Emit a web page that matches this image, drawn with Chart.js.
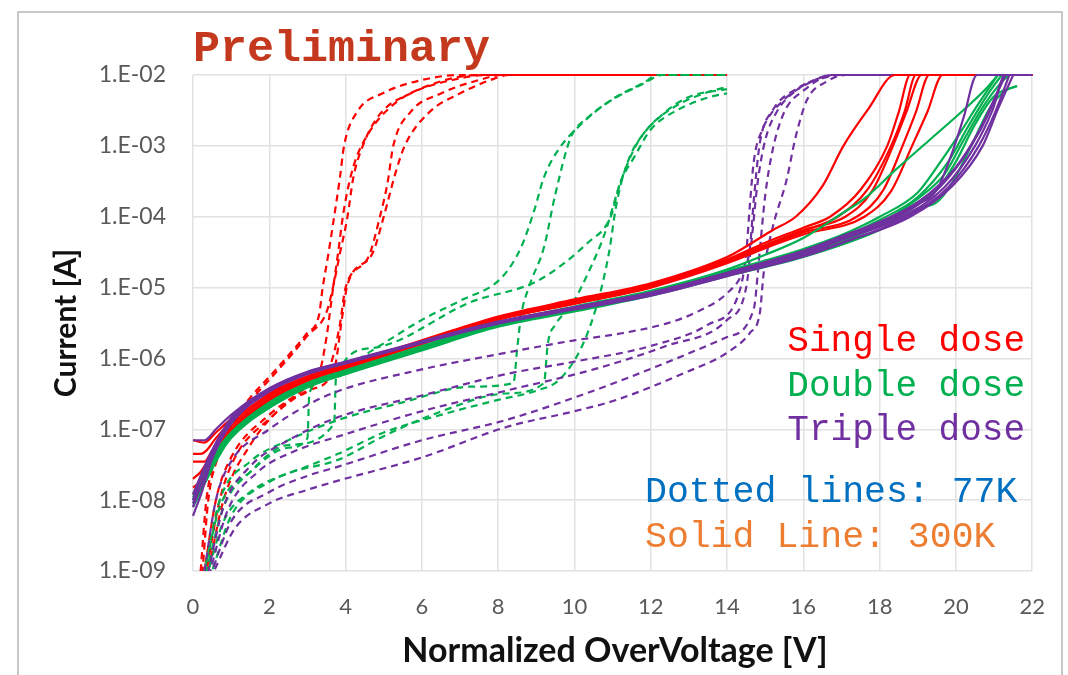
<!DOCTYPE html>
<html>
<head>
<meta charset="utf-8">
<script src="https://cdn.jsdelivr.net/npm/chart.js@4.4.1/dist/chart.umd.min.js"></script>
<style>
  html, body { margin:0; padding:0; background:#fff; }
  #wrap { position:relative; width:1068px; height:675px; }
</style>
</head>
<body>
<div id="wrap"><canvas id="chart" width="1068" height="675"></canvas></div>
<script>
// axis ticks
const xTicks = [0, 2, 4, 6, 8, 10, 12, 14, 16, 18, 20, 22];
const yTicks = [1e-9, 1e-8, 1e-7, 1e-6, 1e-5, 1e-4, 1e-3, 1e-2];
const yTickLabels = ['1.E-09', '1.E-08', '1.E-07', '1.E-06', '1.E-05', '1.E-04', '1.E-03', '1.E-02'];

// 300K, single dose (solid red)
const r300a = [[0,7e-8],[0.3,6.5e-8],[0.6,9e-8],[1,1.4e-7],[1.5,2.3e-7],[2,3.3e-7],[3,5.6e-7],[4,8.2e-7],[6,1.8e-6],[8,3.9e-6],[10,6.8e-6],[12,1.15e-5],[14,2.7e-5],[14.5,3.8e-5],[15.2,6.5e-5],[15.8,1e-4],[16.5,2.7e-4],[17.05,1e-3],[17.7,3.3e-3],[18.4,1e-2],[22,1e-2]];
const r300b = [[0,4.5e-8],[0.2,4.5e-8],[0.35,5e-8],[0.6,7.5e-8],[1,1.25e-7],[2,3.1e-7],[3,5.4e-7],[4,8e-7],[6,1.75e-6],[8,3.8e-6],[10,6.5e-6],[12,1.1e-5],[14,2.5e-5],[15,4.3e-5],[16,7e-5],[16.7,1e-4],[17.5,2.4e-4],[18.2,1e-3],[18.5,3e-3],[18.8,1e-2],[22,1e-2]];
const r300c = [[0,3.5e-8],[0.3,3.5e-8],[0.5,5e-8],[1,1.1e-7],[2,2.9e-7],[3,5.2e-7],[4,7.8e-7],[6,1.7e-6],[8,3.7e-6],[10,6.3e-6],[12,1.07e-5],[14,2.4e-5],[15,4e-5],[16,6.5e-5],[17.1,1e-4],[17.8,2.3e-4],[18.35,1e-3],[18.7,3e-3],[19.1,1e-2],[22,1e-2]];
const r300d = [[0,2e-8],[0.2,2.5e-8],[0.5,4.5e-8],[1,1e-7],[2,2.7e-7],[3,5e-7],[4,7.5e-7],[6,1.65e-6],[8,3.6e-6],[10,6.1e-6],[12,1.04e-5],[14,2.3e-5],[15,3.8e-5],[16,6e-5],[17.4,1e-4],[18.1,2.4e-4],[18.6,1e-3],[18.95,3e-3],[19.3,1e-2],[22,1e-2]];
const r300e = [[0,1e-8],[0.2,1.5e-8],[0.5,3.5e-8],[1,9e-8],[2,2.5e-7],[3,4.8e-7],[4,7.2e-7],[6,1.6e-6],[8,3.5e-6],[10,5.9e-6],[12,1e-5],[14,2.2e-5],[15,3.6e-5],[16,5.6e-5],[17.6,1e-4],[18.3,2.3e-4],[18.85,1e-3],[19.25,3e-3],[19.65,1e-2],[22,1e-2]];
const r300f = [[0,1.5e-8],[0.25,2e-8],[0.5,4e-8],[1,9.5e-8],[2,2.6e-7],[3,4.9e-7],[4,7.4e-7],[6,1.62e-6],[8,3.55e-6],[10,6e-6],[12,1.02e-5],[14,2.35e-5],[15,3.9e-5],[16,6.3e-5],[16.9,1e-4],[17.7,2.5e-4],[18.3,1e-3],[18.65,3e-3],[18.95,1e-2],[22,1e-2]];

// 300K, double dose (solid green)
const g300a = [[0,1.2e-8],[0.2,2e-8],[0.5,4e-8],[1,9e-8],[2,2.4e-7],[3,4.5e-7],[4,6.8e-7],[6,1.5e-6],[8,3.2e-6],[10,5.4e-6],[12,9e-6],[14,1.8e-5],[15,2.9e-5],[16,5e-5],[17,1.1e-4],[17.6,1.8e-4],[18.4,4.5e-4],[19.3,1.2e-3],[20.2,3.2e-3],[20.8,6.5e-3],[21.1,1e-2]];
const g300b = [[0,1e-8],[0.2,1.6e-8],[0.5,3.5e-8],[1,8.5e-8],[2,2.3e-7],[3,4.3e-7],[4,6.5e-7],[6,1.45e-6],[8,3.1e-6],[10,5.2e-6],[12,8.6e-6],[14,1.7e-5],[16,3.5e-5],[17,5.5e-5],[18,1e-4],[19,2.2e-4],[19.6,6e-4],[20.1,1.5e-3],[20.6,4e-3],[21.1,1e-2]];
const g300c = [[0,9e-9],[0.25,1.8e-8],[0.5,3.3e-8],[1,8e-8],[2,2.2e-7],[3,4.2e-7],[4,6.3e-7],[6,1.4e-6],[8,3e-6],[10,5e-6],[12,8.3e-6],[14,1.6e-5],[16,3.2e-5],[17,5e-5],[18,9e-5],[19,1.9e-4],[19.8,6e-4],[20.3,1.8e-3],[20.8,5e-3],[21.2,1e-2]];
const g300d = [[0,1.1e-8],[0.25,1.9e-8],[0.5,3.4e-8],[1,8e-8],[2,2.1e-7],[3,4e-7],[4,6.1e-7],[6,1.35e-6],[8,2.9e-6],[10,4.8e-6],[12,8e-6],[14,1.5e-5],[16,2.9e-5],[18,7.5e-5],[19,1.6e-4],[19.5,2.4e-4],[20,6e-4],[20.5,2e-3],[21,5e-3],[21.6,7e-3]];
const g300e = [[0,8e-9],[0.25,1.5e-8],[0.5,3e-8],[1,7.5e-8],[2,2e-7],[3,3.9e-7],[4,6e-7],[6,1.3e-6],[8,2.8e-6],[10,4.6e-6],[12,7.7e-6],[14,1.45e-5],[16,2.7e-5],[18,6.5e-5],[19,1.3e-4],[19.5,1.6e-4],[19.9,3e-4],[20.4,1e-3],[20.9,3.5e-3],[21.3,6e-3],[21.6,7e-3]];
const g300f = [[0,1e-8],[0.3,1.7e-8],[0.6,3.5e-8],[1,7.8e-8],[2,2.05e-7],[3,4e-7],[4,6.2e-7],[6,1.38e-6],[8,2.95e-6],[10,4.9e-6],[12,8.1e-6],[14,1.55e-5],[16,3e-5],[18,8e-5],[19,1.8e-4],[19.7,4e-4],[20.2,1.2e-3],[20.7,3.5e-3],[21.2,8e-3],[21.4,1e-2]];

// 300K, triple dose (solid purple)
const p300a = [[0,7e-8],[0.3,7e-8],[0.6,1e-7],[1,1.6e-7],[2,3.8e-7],[3,6.5e-7],[4,9e-7],[6,1.75e-6],[8,3.3e-6],[10,5.3e-6],[12,8.5e-6],[14,1.6e-5],[16,3.3e-5],[18,8e-5],[19,1.5e-4],[19.5,2.4e-4],[19.9,8e-4],[20.2,2.5e-3],[20.55,1e-2],[22,1e-2]];
const p300b = [[0,8e-9],[0.2,1.6e-8],[0.5,4e-8],[1,1.3e-7],[2,3.5e-7],[3,6.2e-7],[4,8.7e-7],[6,1.7e-6],[8,3.2e-6],[10,5.1e-6],[12,8e-6],[14,1.5e-5],[16,2.9e-5],[16.9,4.5e-5],[18.6,1e-4],[19.7,2.6e-4],[20.5,1e-3],[20.96,3.2e-3],[21.3,1e-2],[22,1e-2]];
const p300c = [[0,1e-8],[0.2,2e-8],[0.5,5e-8],[1,1.4e-7],[2,3.6e-7],[3,6.3e-7],[4,8.8e-7],[6,1.72e-6],[8,3.25e-6],[10,5.2e-6],[12,8.2e-6],[14,1.55e-5],[16,3.1e-5],[17,4.8e-5],[18.5,1e-4],[19.6,2.7e-4],[20.4,1e-3],[20.9,3.2e-3],[21.25,1e-2]];
const p300d = [[0,6e-9],[0.25,1.4e-8],[0.5,3.8e-8],[1,1.2e-7],[2,3.4e-7],[3,6e-7],[4,8.5e-7],[6,1.65e-6],[8,3.1e-6],[10,4.9e-6],[12,7.7e-6],[14,1.45e-5],[16,2.75e-5],[17,4.2e-5],[18.7,1e-4],[19.8,2.6e-4],[20.6,1e-3],[21.05,3.2e-3],[21.4,1e-2]];
const p300e = [[0,1.2e-8],[0.2,2.2e-8],[0.5,5e-8],[1,1.45e-7],[2,3.7e-7],[3,6.4e-7],[4,8.9e-7],[6,1.73e-6],[8,3.28e-6],[10,5.25e-6],[12,8.4e-6],[14,1.62e-5],[16,3.3e-5],[17,5.3e-5],[18,8.5e-5],[19,1.6e-4],[20,5e-4],[20.6,1.6e-3],[21,4.5e-3],[21.3,1e-2]];
const p300f = [[0,9e-9],[0.25,1.8e-8],[0.5,4.5e-8],[1,1.35e-7],[2,3.55e-7],[3,6.1e-7],[4,8.6e-7],[6,1.68e-6],[8,3.15e-6],[10,5e-6],[12,7.9e-6],[14,1.5e-5],[16,2.8e-5],[17,4.3e-5],[18.8,1e-4],[19.9,2.7e-4],[20.7,1e-3],[21.1,3.3e-3],[21.5,1e-2]];

// 77K, single dose (dashed red)
const r77a = [[0.2,1e-9],[0.35,1e-8],[0.6,4e-8],[1,1.2e-7],[1.5,2.8e-7],[2,5.5e-7],[2.5,1.1e-6],[3,2.3e-6],[3.3,4e-6],[3.4,1e-5],[3.55,3e-5],[3.7,1e-4],[3.85,3.5e-4],[3.96,1e-3],[4.3,3e-3],[5,5.6e-3],[6,8.5e-3],[7,1e-2],[14,1e-2]];
const r77b = [[0.25,1e-9],[0.4,1e-8],[0.65,4e-8],[1,1.05e-7],[1.5,2.5e-7],[2,5e-7],[2.5,1e-6],[3,2.1e-6],[3.5,4.5e-6],[3.7,1.2e-5],[3.85,3e-5],[4.05,1e-4],[4.2,3.5e-4],[4.45,1e-3],[4.9,2.8e-3],[5.7,5.5e-3],[6.8,8.5e-3],[7.7,1e-2],[14,1e-2]];
const r77c = [[0.3,1e-9],[0.6,1e-8],[1,4e-8],[2,1.6e-7],[3,4e-7],[3.6,8e-7],[3.85,3e-6],[4.0,1e-5],[4.6,2.7e-5],[4.9,1e-4],[5.1,3e-4],[5.25,1e-3],[5.7,3e-3],[6.5,5.5e-3],[7.5,8.5e-3],[8.1,1e-2],[14,1e-2]];
const r77d = [[0.35,1e-9],[0.7,1e-8],[1.1,4e-8],[2,1.4e-7],[3,3.5e-7],[3.7,7e-7],[3.9,3.5e-6],[4.05,1.1e-5],[4.7,3e-5],[5.0,1e-4],[5.3,4e-4],[5.55,1e-3],[6.2,3e-3],[7,5.5e-3],[7.8,8.5e-3],[8.3,1e-2],[14,1e-2]];
const r77e = [[0.4,1e-9],[0.8,1e-8],[1.5,6e-8],[2.5,2.5e-7],[3.3,6e-7],[3.5,2e-6],[3.65,8e-6],[3.8,3e-5],[3.95,1.2e-4],[4.2,5e-4],[4.6,1.5e-3],[5.3,4e-3],[6.3,7.5e-3],[7.5,1e-2],[14,1e-2]];

// 77K, double dose (dashed green)
const g77a = [[0.3,1e-9],[0.7,8e-9],[1.5,2.5e-8],[2.5,5.5e-8],[3.0,7.5e-8],[3.05,3.2e-7],[3.5,5.5e-7],[4.7,1.3e-6],[6,3.5e-6],[7,6.5e-6],[8.1,1.4e-5],[8.6,3.7e-5],[8.95,1.25e-4],[9.2,3.6e-4],[9.57,8.7e-4],[10.1,1.85e-3],[10.95,4.4e-3],[11.8,7.7e-3],[12.2,1e-2],[14,1e-2]];
const g77b = [[0.35,1e-9],[0.8,8e-9],[1.5,2.5e-8],[2.5,6e-8],[3.7,1.2e-7],[3.75,5.5e-7],[4.7,1.4e-6],[7.3,6.3e-6],[9.05,1.26e-5],[10.35,4.3e-5],[10.95,1e-4],[11.2,3e-4],[11.57,7e-4],[12.0,1.7e-3],[12.7,3.2e-3],[13.55,4.9e-3],[14,5.5e-3]];
const g77c = [[0.3,1e-9],[0.7,1e-8],[1.5,3.5e-8],[2.5,7e-8],[3.8,1.35e-7],[5.5,2.4e-7],[7.3,4e-7],[8.4,4.5e-7],[8.5,1.4e-6],[8.6,4e-6],[8.8,1e-5],[9.2,3.7e-5],[9.5,2.1e-4],[9.9,1.3e-3],[10.35,2.5e-3],[11,4.5e-3],[11.8,7.5e-3],[12.3,1e-2],[14,1e-2]];
const g77d = [[0.4,1e-9],[0.8,5e-9],[1.5,1.3e-8],[2.5,2.4e-8],[3.8,3.7e-8],[5,8e-8],[6.4,1.7e-7],[8.2,3.2e-7],[9.2,4.5e-7],[9.3,1.6e-6],[9.5,3e-6],[9.9,5.4e-6],[10.4,1.8e-5],[10.8,5.9e-5],[11.2,3e-4],[11.65,1.1e-3],[12.35,2.9e-3],[13,4.9e-3],[13.9,6.2e-3],[14,6.3e-3]];
const g77e = [[0.5,1e-9],[1,6e-9],[2,1.8e-8],[3,3e-8],[3.8,4.5e-8],[5,9e-8],[6.5,1.6e-7],[8,2.6e-7],[9,3.5e-7],[9.6,5e-7],[10.2,1.5e-6],[10.6,6e-6],[10.9,3e-5],[11.1,1.5e-4],[11.4,6e-4],[11.9,1.7e-3],[12.6,3.5e-3],[13.4,5.5e-3],[14,6.8e-3]];

// 77K, triple dose (dashed purple)
const p77a = [[0.3,1e-9],[0.6,1e-8],[1,3.5e-8],[2,1e-7],[3,2.2e-7],[3.83,3.5e-7],[6,7e-7],[8.2,1.2e-6],[10,1.8e-6],[11.1,2.2e-6],[12.4,3.1e-6],[13.2,4.5e-6],[14,8.3e-6],[14.4,1.6e-5],[14.6,3.7e-5],[14.7,1.7e-4],[14.86,1.1e-3],[15.2,3.2e-3],[15.8,6.3e-3],[16.5,9e-3],[17,1e-2],[22,1e-2]];
const p77b = [[0.4,1e-9],[0.8,8e-9],[1.5,3e-8],[2.5,7e-8],[3.83,1.5e-7],[6,3e-7],[8.2,6e-7],[10,9e-7],[12,1.5e-6],[13.5,3e-6],[14.3,8e-6],[14.5,3e-5],[14.6,1.5e-4],[14.7,6e-4],[14.95,1.8e-3],[15.4,4e-3],[16,7e-3],[16.8,1e-2],[22,1e-2]];
const p77c = [[0.45,1e-9],[0.9,7e-9],[1.7,2.5e-8],[2.7,5e-8],[3.83,8e-8],[6,1.8e-7],[8.2,3.5e-7],[10.5,7e-7],[12.4,1.5e-6],[14,3.5e-6],[14.5,1e-5],[14.65,5e-5],[14.8,3e-4],[15,1.2e-3],[15.3,3e-3],[15.8,6e-3],[16.4,9e-3],[16.7,1e-2],[22,1e-2]];
const p77d = [[0.5,1e-9],[1,5e-9],[2,1.3e-8],[3,2.2e-8],[3.83,3e-8],[6,7e-8],[8.2,1.35e-7],[10.5,3.5e-7],[12.4,8.7e-7],[14,2e-6],[14.7,5e-6],[14.85,3e-5],[15.0,2e-4],[15.2,9e-4],[15.5,3e-3],[16,6e-3],[16.8,1e-2],[22,1e-2]];
const p77e = [[0.55,1e-9],[1.1,4e-9],[2,9e-9],[3,1.4e-8],[3.83,1.9e-8],[6,4e-8],[8.2,1.07e-7],[10,1.8e-7],[11.1,2.6e-7],[12.9,6.3e-7],[14,1.2e-6],[14.6,2.3e-6],[14.86,4.4e-6],[14.96,1.6e-5],[15.2,7.2e-5],[15.56,3.3e-4],[15.8,1.35e-3],[16.1,4.5e-3],[16.6,8e-3],[17.1,1e-2],[22,1e-2]];

const RED = '#ff0000', GREEN = '#00b050', PURPLE = '#7030a0';

function line(data, color, dashed, offset){
  return {
    data, borderColor: color, backgroundColor: color,
    borderWidth: 2.2, pointRadius: 0, fill: false,
    cubicInterpolationMode: 'monotone',
    borderDash: dashed ? [7, 5] : [], borderDashOffset: offset || 0,
    clip: 4
  };
}

// first dataset is drawn on top
const datasets = [
  ...[p300a, p300b, p300c, p300d, p300e, p300f].map(d => line(d, PURPLE, false)),
  ...[g300a, g300b, g300c, g300d, g300e, g300f].map(d => line(d, GREEN, false)),
  ...[r300a, r300b, r300c, r300d, r300e, r300f].map(d => line(d, RED, false)),
  ...[p77a, p77b, p77c, p77d, p77e].map((d, i) => line(d, PURPLE, true, i * 2.5)),
  ...[g77a, g77b, g77c, g77d, g77e].map((d, i) => line(d, GREEN, true, i * 2.5)),
  ...[r77a, r77b, r77c, r77d, r77e].map((d, i) => line(d, RED, true, i * 2.5))
];

const MONO = '"Liberation Mono", "Courier New", monospace';
const SANS = 'Lato, "Open Sans", sans-serif';

const notes = {
  id: 'notes',
  beforeDraw(chart){
    const ctx = chart.ctx;
    ctx.save();
    ctx.fillStyle = '#fff';
    ctx.fillRect(0, 0, chart.width, chart.height);
    ctx.strokeStyle = '#c8c8c8';
    ctx.lineWidth = 2;
    ctx.beginPath();
    ctx.moveTo(18, 680); ctx.lineTo(18, 12); ctx.lineTo(1062, 12); ctx.lineTo(1062, 680);
    ctx.stroke();
    ctx.restore();
  },
  afterDraw(chart){
    const ctx = chart.ctx;
    const { left, top, bottom } = chart.chartArea;
    ctx.save();
    ctx.textBaseline = 'middle';
    ctx.fillStyle = '#c4391d';
    ctx.font = 'bold 45px ' + MONO;
    ctx.textAlign = 'left';
    ctx.fillText('Preliminary', left, 50);

    ctx.font = '36px ' + MONO;
    ctx.textAlign = 'right';
    ctx.fillStyle = RED; ctx.fillText('Single dose', 1025, 341);
    ctx.fillStyle = GREEN; ctx.fillText('Double dose', 1025, 386);
    ctx.fillStyle = PURPLE; ctx.fillText('Triple dose', 1025, 430);
    ctx.textAlign = 'left';
    ctx.font = '36.5px ' + MONO;
    ctx.fillStyle = '#0070c0'; ctx.fillText('Dotted lines: 77K', 645, 492);
    ctx.fillStyle = '#ed7d31'; ctx.fillText('Solid Line: 300K', 645, 537);

    ctx.fillStyle = '#111';
    ctx.textAlign = 'center';
    ctx.font = 'bold 34px ' + SANS;
    ctx.fillText('Normalized OverVoltage [V]', 615, 651);
    ctx.translate(66, (top + bottom) / 2);
    ctx.rotate(-Math.PI / 2);
    ctx.font = 'bold 30px ' + SANS;
    ctx.fillText('Current [A]', 0, 0);
    ctx.restore();
  }
};

new Chart(document.getElementById('chart'), {
  type: 'line',
  data: { datasets },
  plugins: [notes],
  options: {
    responsive: false,
    animation: false,
    devicePixelRatio: 1,
    layout: { padding: { top: 75, right: 31, left: 0, bottom: 0 } },
    plugins: { legend: { display: false }, tooltip: { enabled: false } },
    scales: {
      x: {
        type: 'linear', min: 0, max: 22,
        afterFit: s => { s.height = 104; },
        afterBuildTicks: s => { s.ticks = xTicks.map(v => ({ value: v })); },
        grid: { color: '#e2e2e2', lineWidth: 1.5, drawTicks: false },
        border: { display: false },
        ticks: { padding: 23, color: '#595959', font: { family: SANS, size: 22 }, callback: v => String(v) }
      },
      y: {
        type: 'logarithmic', min: 1e-9, max: 1e-2,
        afterFit: s => { s.width = 193; },
        afterBuildTicks: s => { s.ticks = yTicks.map(v => ({ value: v })); },
        grid: { color: '#e2e2e2', lineWidth: 1.5, drawTicks: false },
        border: { display: false },
        ticks: {
          padding: 27, color: '#595959', font: { family: SANS, size: 23 },
          callback: v => yTickLabels[yTicks.findIndex(t => Math.abs(Math.log10(t) - Math.log10(v)) < 1e-6)]
        }
      }
    }
  }
});
</script>
</body>
</html>
